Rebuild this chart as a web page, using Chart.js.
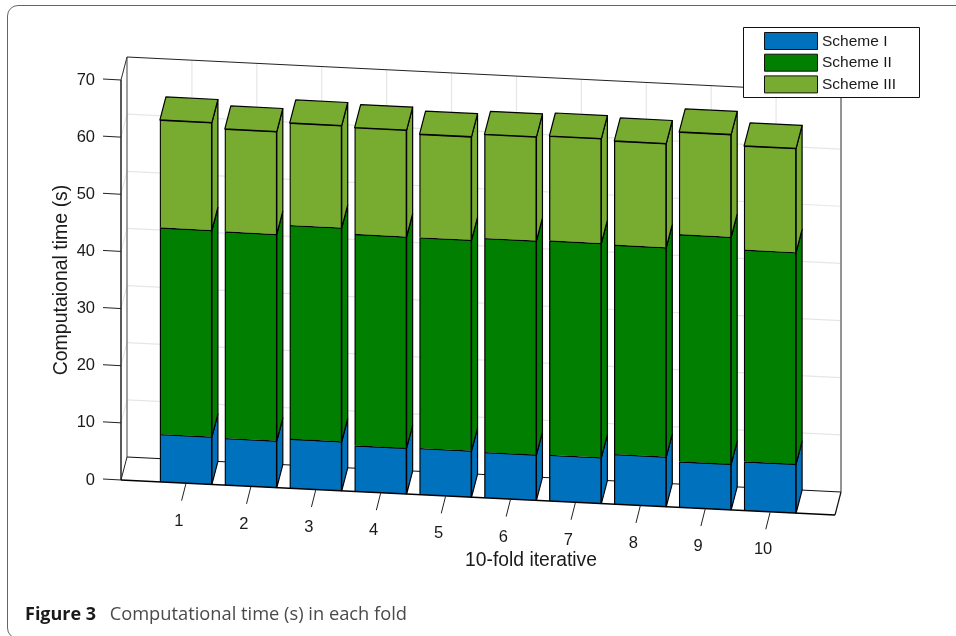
<!DOCTYPE html>
<html>
<head>
<meta charset="utf-8">
<title>Figure 3</title>
<script src="https://cdn.jsdelivr.net/npm/chart.js@4/dist/chart.umd.min.js"></script>
<style>
  html, body { margin: 0; padding: 0; width: 956px; height: 636px; overflow: hidden; background: #fff; }
  #frame { position: absolute; left: 7px; top: 5px; width: 1000px; height: 634px; box-sizing: border-box;
           border: 1px solid #666; border-radius: 11px; }
  #plot { position: absolute; left: 0; top: 0; }
  #caption { position: absolute; left: 25px; top: 600px; font: 18.3px "Open Sans", sans-serif; color: #4a4a4a; white-space: pre; }
  #caption b { color: #1a1a1a; font-size: 18px; margin-right: 4px; }
</style>
</head>
<body>
<div id="frame"></div>
<canvas id="plot" width="956" height="636"></canvas>
<div id="caption"><b>Figure 3</b>  Computational time (s) in each fold</div>
<script>
const folds = [1, 2, 3, 4, 5, 6, 7, 8, 9, 10];
const yTicks = [0, 10, 20, 30, 40, 50, 60, 70];
const schemeI = [8.33, 8.19, 8.63, 8.02, 8.12, 7.96, 8.05, 8.73, 8.0, 8.56];
const schemeII = [36.16, 36.16, 37.4, 37.0, 36.86, 37.45, 37.5, 36.63, 39.76, 37.05];
const schemeIII = [18.85, 17.97, 17.9, 18.66, 18.1, 18.2, 18.32, 18.2, 17.94, 18.2];

const FONT = '"Liberation Sans", Arial, sans-serif';
const INK = '#1a1a1a';
const SLOPE = 0.049;              // descente de l'axe X (fausse perspective)
const DEPTH = { x: 6, y: -23 };   // profondeur des barres et du sol

function line(ctx, x1, y1, x2, y2, color, width) {
  ctx.strokeStyle = color;
  ctx.lineWidth = width;
  ctx.beginPath();
  ctx.moveTo(x1, y1);
  ctx.lineTo(x2, y2);
  ctx.stroke();
}

function face(ctx, pts, fill) {
  ctx.fillStyle = fill;
  ctx.strokeStyle = '#000';
  ctx.lineWidth = 1.2;
  ctx.lineJoin = 'round';
  ctx.beginPath();
  pts.forEach((p, i) => (i ? ctx.lineTo(p[0], p[1]) : ctx.moveTo(p[0], p[1])));
  ctx.closePath();
  ctx.fill();
  ctx.stroke();
}

const fake3d = {
  id: 'fake3d',
  beforeDatasetsDraw(chart) {
    const { ctx, chartArea: a, scales: { x: xs, y: ys } } = chart;
    const dy = x => SLOPE * (x - a.left);
    const bx = a.left + DEPTH.x, bxr = a.right + DEPTH.x;

    // murs : grille claire
    ys.ticks.forEach(t => {
      const y = ys.getPixelForValue(t.value);
      if (t.value > 0) {
        line(ctx, a.left, y, bx, y + DEPTH.y, '#e6e6e6', 1);
        if (t.value < 70) line(ctx, bx, y + DEPTH.y, bxr, y + DEPTH.y + dy(a.right), '#e6e6e6', 1.2);
      }
    });
    xs.ticks.forEach(t => {
      const x = xs.getPixelForValue(t.value);
      line(ctx, x + DEPTH.x, a.top + DEPTH.y + dy(x), x + DEPTH.x, a.bottom + DEPTH.y + dy(x), '#e6e6e6', 1.2);
    });

    // cadre arrière et sol
    line(ctx, bx, a.top + DEPTH.y, bx, a.bottom + DEPTH.y, '#808080', 1.5);
    line(ctx, bxr, a.top + DEPTH.y + dy(a.right), bxr, a.bottom + DEPTH.y + dy(a.right), '#707070', 1.5);
    line(ctx, bx, a.top + DEPTH.y, bxr, a.top + DEPTH.y + dy(a.right), '#222', 1.2);
    line(ctx, bx, a.bottom + DEPTH.y, bxr, a.bottom + DEPTH.y + dy(a.right), '#111', 1.2);
    line(ctx, a.left, a.top, bx, a.top + DEPTH.y, '#333', 1);
    line(ctx, a.left, a.bottom, bx, a.bottom + DEPTH.y, '#222', 1);
    line(ctx, a.right, a.bottom + dy(a.right), bxr, a.bottom + DEPTH.y + dy(a.right), '#111', 1.2);
    line(ctx, a.left, a.top, a.left, a.bottom, '#222', 1.5);

    // faces latérales et dessus des barres
    chart.data.datasets.forEach((ds, d) => {
      chart.getDatasetMeta(d).data.forEach(bar => {
        const l = bar.x - bar.width / 2, r = bar.x + bar.width / 2;
        const yt = bar.y + dy(r), yb = bar.base + dy(r);
        face(ctx, [[r, yt], [r, yb], [r + DEPTH.x, yb + DEPTH.y], [r + DEPTH.x, yt + DEPTH.y]], ds.backgroundColor);
        if (d === chart.data.datasets.length - 1) {
          const yl = bar.y + dy(l);
          face(ctx, [[l, yl], [r, yt], [r + DEPTH.x, yt + DEPTH.y], [l + DEPTH.x, yl + DEPTH.y]], ds.backgroundColor);
        }
      });
    });

    // les faces avant sont tracées par Chart.js, cisaillées
    ctx.save();
    ctx.transform(1, SLOPE, 0, 1, 0, -SLOPE * a.left);
  },
  afterDatasetsDraw(chart) {
    const { ctx, chartArea: a, scales: { x: xs, y: ys } } = chart;
    ctx.restore();
    const dy = x => SLOPE * (x - a.left);

    line(ctx, a.left, a.bottom, a.right, a.bottom + dy(a.right), '#000', 1.3);

    // graduations Y
    ys.ticks.forEach(t => {
      const y = ys.getPixelForValue(t.value);
      line(ctx, a.left - 18, y - 1, a.left, y, '#222', 1);
    });

    // graduations et libellés X, qui suivent la pente
    ctx.fillStyle = INK;
    ctx.font = '16.5px ' + FONT;
    ctx.textAlign = 'center';
    ctx.textBaseline = 'middle';
    xs.ticks.forEach(t => {
      const x = xs.getPixelForValue(t.value), y = a.bottom + dy(x);
      line(ctx, x, y + 0.5, x - 4.3, y + 17.5, '#222', 1);
      ctx.fillText(t.label, x - 7, y + 38);
    });

    ctx.font = '19.3px ' + FONT;
    ctx.fillText('10-fold iterative', 531, 560.5);

    // légende
    ctx.fillStyle = '#fff';
    ctx.fillRect(743.5, 27.5, 176, 70);
    ctx.strokeStyle = '#111';
    ctx.lineWidth = 1;
    ctx.strokeRect(743.5, 27.5, 176, 70);
    ctx.font = '15.5px ' + FONT;
    ctx.textAlign = 'left';
    chart.data.datasets.forEach((ds, i) => {
      const top = 32.5 + i * 21.7;
      ctx.fillStyle = ds.backgroundColor;
      ctx.fillRect(764.5, top, 53, 17);
      ctx.strokeStyle = '#111';
      ctx.strokeRect(764.5, top, 53, 17);
      ctx.fillStyle = INK;
      ctx.fillText(ds.label, 822, top + 9);
    });
  }
};

const toPoints = vals => folds.map((f, i) => ({ x: f, y: vals[i] }));
const barStyle = { borderColor: '#000', borderWidth: 1.3, barThickness: 52, clip: false };

new Chart(document.getElementById('plot'), {
  type: 'bar',
  data: {
    datasets: [
      { label: 'Scheme I', data: toPoints(schemeI), backgroundColor: '#0072BD', ...barStyle },
      { label: 'Scheme II', data: toPoints(schemeII), backgroundColor: '#007F00', ...barStyle },
      { label: 'Scheme III', data: toPoints(schemeIII), backgroundColor: '#77AC30', ...barStyle }
    ]
  },
  options: {
    responsive: false,
    animation: false,
    layout: { padding: { left: 50, right: 121, top: 80, bottom: 156 } },
    plugins: { legend: { display: false }, tooltip: { enabled: false } },
    scales: {
      x: {
        type: 'linear', stacked: true, offset: false, min: 0, max: 11,
        grid: { display: false }, border: { display: false },
        ticks: { display: false, stepSize: 1 },
        afterBuildTicks: s => { s.ticks = folds.map(v => ({ value: v, label: String(v) })); },
        afterFit: s => { s.height = 0; }
      },
      y: {
        stacked: true, min: 0, max: 70,
        grid: { display: false }, border: { display: false },
        ticks: { stepSize: 10, padding: 18, color: INK, font: { family: FONT, size: 16.5 } },
        afterBuildTicks: s => { s.ticks = yTicks.map(v => ({ value: v })); },
        title: { display: true, text: 'Computaional time (s)', color: INK, font: { family: FONT, size: 19.5 }, padding: 0 },
        afterFit: s => { s.width = 71; }
      }
    }
  },
  plugins: [fake3d]
});
</script>
</body>
</html>
